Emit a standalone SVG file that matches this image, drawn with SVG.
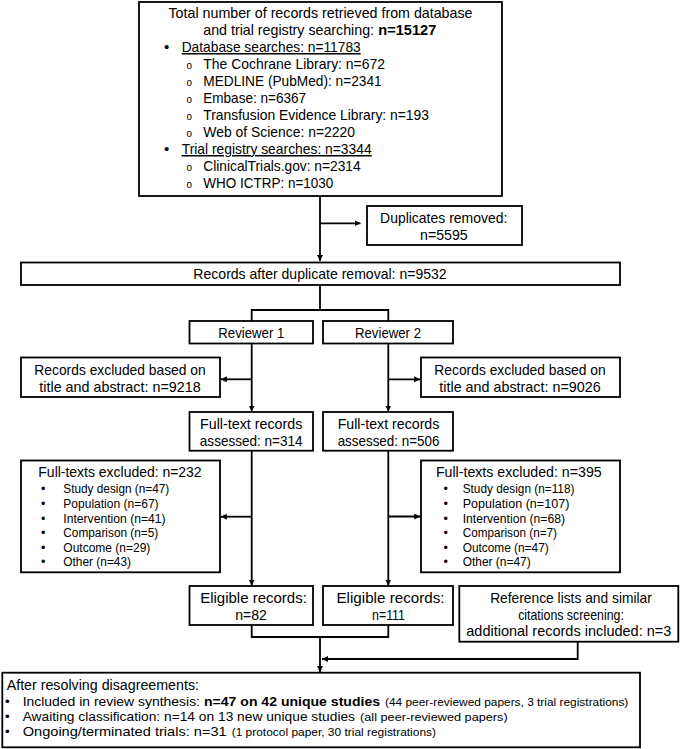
<svg xmlns="http://www.w3.org/2000/svg" width="685" height="749" viewBox="0 0 685 749">
<style>
.box{fill:#fff;stroke:#000;stroke-width:1.8}
.t{font-family:"Liberation Sans","Open Sans",sans-serif;font-size:15px;fill:#000}
.c{text-anchor:middle}
.m{font-size:14.5px}
.h{font-size:14px}
.f{font-size:13.4px}
.s{font-size:12.5px}
.xs{font-size:11px}
.b{font-weight:bold}
.u{text-decoration:underline}
.o{font-family:"Liberation Mono",monospace;font-size:10px;text-anchor:middle}
.conn path{fill:none;stroke:#000;stroke-width:1.8}
</style>
<defs>
<marker id="ah" markerUnits="userSpaceOnUse" markerWidth="7" markerHeight="7" refX="6" refY="3" orient="auto"><path d="M0,0L6,3L0,6z" fill="#000"/></marker>
</defs>
<g class="conn" id="connectors">
<path d="M320,196V261" marker-end="url(#ah)"/>
<path d="M320,223.3H360.5" marker-end="url(#ah)"/>
<path d="M320,285V310M251.7,321V310H388.3V321"/>
<path d="M251.7,343.3V411.5" marker-end="url(#ah)"/>
<path d="M251.7,379.3H220.8" marker-end="url(#ah)"/>
<path d="M388.3,343.3V411.5" marker-end="url(#ah)"/>
<path d="M388.3,379.3H420.2" marker-end="url(#ah)"/>
<path d="M251.7,450.7V585.5" marker-end="url(#ah)"/>
<path d="M251.7,516.7H220.8" marker-end="url(#ah)"/>
<path d="M388.3,450.7V585.5" marker-end="url(#ah)"/>
<path d="M388.3,516.5H420.2" marker-end="url(#ah)"/>
<path d="M251.7,625V637H388.3V625"/>
<path d="M320,637V672" marker-end="url(#ah)"/>
<path d="M577.7,641.7V659H322" marker-end="url(#ah)"/>
</g>
<g id="n_total">
<rect class="box" x="139" y="2" width="363" height="194"/>
<text class="t c" x="320.5" y="18" textLength="304" lengthAdjust="spacingAndGlyphs">Total number of records retrieved from database</text>
<text class="t" y="35"><tspan x="203.3" textLength="170.7" lengthAdjust="spacingAndGlyphs">and trial registry searching:</tspan> <tspan class="b" x="378.3" textLength="58" lengthAdjust="spacingAndGlyphs">n=15127</tspan></text>
<text class="t c" x="166.7" y="52">•</text>
<text class="t u" x="181.7" y="52" textLength="179" lengthAdjust="spacingAndGlyphs">Database searches: n=11783</text>
<text class="o" x="189.3" y="69">o</text>
<text class="t" x="203.3" y="69" textLength="181.7" lengthAdjust="spacingAndGlyphs">The Cochrane Library: n=672</text>
<text class="o" x="189.3" y="86">o</text>
<text class="t" x="203.3" y="86" textLength="178.3" lengthAdjust="spacingAndGlyphs">MEDLINE (PubMed): n=2341</text>
<text class="o" x="189.3" y="103">o</text>
<text class="t" x="203.3" y="103" textLength="102.7" lengthAdjust="spacingAndGlyphs">Embase: n=6367</text>
<text class="o" x="189.3" y="120">o</text>
<text class="t" x="203.3" y="120" textLength="225.7" lengthAdjust="spacingAndGlyphs">Transfusion Evidence Library: n=193</text>
<text class="o" x="189.3" y="137">o</text>
<text class="t" x="203.3" y="137" textLength="151.7" lengthAdjust="spacingAndGlyphs">Web of Science: n=2220</text>
<text class="t c" x="166.7" y="154">•</text>
<text class="t u" x="181.7" y="154" textLength="190" lengthAdjust="spacingAndGlyphs">Trial registry searches: n=3344</text>
<text class="o" x="189.3" y="171">o</text>
<text class="t" x="203.3" y="171" textLength="157.3" lengthAdjust="spacingAndGlyphs">ClinicalTrials.gov: n=2314</text>
<text class="o" x="189.3" y="188">o</text>
<text class="t" x="203.3" y="188" textLength="130" lengthAdjust="spacingAndGlyphs">WHO ICTRP: n=1030</text>
</g>
<g id="n_duplicates">
<rect class="box" x="367" y="206" width="155" height="39"/>
<text class="t m c" x="443.7" y="223" textLength="127.3" lengthAdjust="spacingAndGlyphs">Duplicates removed:</text>
<text class="t m c" x="443.9" y="239.5" textLength="47.7" lengthAdjust="spacingAndGlyphs">n=5595</text>
</g>
<g id="n_after_dup">
<rect class="box" x="21" y="262.5" width="599" height="22.5"/>
<text class="t c" x="320" y="279" textLength="253.3" lengthAdjust="spacingAndGlyphs">Records after duplicate removal: n=9532</text>
</g>
<g id="n_reviewer1">
<rect class="box" x="189.5" y="321" width="123.5" height="22.5"/>
<text class="t c" x="251.3" y="337.5" textLength="66" lengthAdjust="spacingAndGlyphs">Reviewer 1</text>
</g>
<g id="n_reviewer2">
<rect class="box" x="323" y="321" width="130" height="22.5"/>
<text class="t c" x="388" y="337.5" textLength="66" lengthAdjust="spacingAndGlyphs">Reviewer 2</text>
</g>
<g id="n_excl_ta_1">
<rect class="box" x="21" y="357.5" width="199" height="39.5"/>
<text class="t c" x="120" y="374.5" textLength="171.3" lengthAdjust="spacingAndGlyphs">Records excluded based on</text>
<text class="t c" x="120" y="391.5" textLength="161.3" lengthAdjust="spacingAndGlyphs">title and abstract: n=9218</text>
</g>
<g id="n_excl_ta_2">
<rect class="box" x="421" y="357.5" width="199" height="39.5"/>
<text class="t c" x="520" y="374.5" textLength="171.3" lengthAdjust="spacingAndGlyphs">Records excluded based on</text>
<text class="t c" x="520" y="391.5" textLength="161.3" lengthAdjust="spacingAndGlyphs">title and abstract: n=9026</text>
</g>
<g id="n_fulltext_1">
<rect class="box" x="189.5" y="412" width="123.5" height="38.7"/>
<text class="t c" x="251.2" y="429" textLength="102.3" lengthAdjust="spacingAndGlyphs">Full-text records</text>
<text class="t c" x="251.2" y="446" textLength="102.7" lengthAdjust="spacingAndGlyphs">assessed: n=314</text>
</g>
<g id="n_fulltext_2">
<rect class="box" x="323" y="412" width="130" height="38.7"/>
<text class="t c" x="388.5" y="429" textLength="101.7" lengthAdjust="spacingAndGlyphs">Full-text records</text>
<text class="t c" x="388.5" y="446" textLength="101.7" lengthAdjust="spacingAndGlyphs">assessed: n=506</text>
</g>
<g id="n_ft_excl_1">
<rect class="box" x="21" y="460.5" width="199" height="111.8"/>
<text class="t h c" x="120" y="477" textLength="163.3" lengthAdjust="spacingAndGlyphs">Full-texts excluded: n=232</text>
<g class="t s">
<text class="c" x="43.3" y="493.3">•</text><text x="63.3" y="493.3" textLength="106" lengthAdjust="spacingAndGlyphs">Study design (n=47)</text>
<text class="c" x="43.3" y="507.9">•</text><text x="63.3" y="507.9" textLength="95.3" lengthAdjust="spacingAndGlyphs">Population (n=67)</text>
<text class="c" x="43.3" y="522.5">•</text><text x="63.3" y="522.5" textLength="102.3" lengthAdjust="spacingAndGlyphs">Intervention (n=41)</text>
<text class="c" x="43.3" y="537.1">•</text><text x="63.3" y="537.1" textLength="95" lengthAdjust="spacingAndGlyphs">Comparison (n=5)</text>
<text class="c" x="43.3" y="551.7">•</text><text x="63.3" y="551.7" textLength="87" lengthAdjust="spacingAndGlyphs">Outcome (n=29)</text>
<text class="c" x="43.3" y="566.3">•</text><text x="63.3" y="566.3" textLength="67.7" lengthAdjust="spacingAndGlyphs">Other (n=43)</text>
</g>
</g>
<g id="n_ft_excl_2">
<rect class="box" x="421" y="460.5" width="199" height="111.8"/>
<text class="t h c" x="518.8" y="477" textLength="165.7" lengthAdjust="spacingAndGlyphs">Full-texts excluded: n=395</text>
<g class="t s">
<text class="c" x="445.7" y="493.3">•</text><text x="462.7" y="493.3" textLength="111.7" lengthAdjust="spacingAndGlyphs">Study design (n=118)</text>
<text class="c" x="445.7" y="507.9">•</text><text x="462.7" y="507.9" textLength="106.7" lengthAdjust="spacingAndGlyphs">Population (n=107)</text>
<text class="c" x="445.7" y="522.5">•</text><text x="462.7" y="522.5" textLength="102.3" lengthAdjust="spacingAndGlyphs">Intervention (n=68)</text>
<text class="c" x="445.7" y="537.1">•</text><text x="462.7" y="537.1" textLength="94.3" lengthAdjust="spacingAndGlyphs">Comparison (n=7)</text>
<text class="c" x="445.7" y="551.7">•</text><text x="462.7" y="551.7" textLength="86" lengthAdjust="spacingAndGlyphs">Outcome (n=47)</text>
<text class="c" x="445.7" y="566.3">•</text><text x="462.7" y="566.3" textLength="68" lengthAdjust="spacingAndGlyphs">Other (n=47)</text>
</g>
</g>
<g id="n_eligible_1">
<rect class="box" x="189.5" y="586" width="123.5" height="39"/>
<text class="t m c" x="253.5" y="603" textLength="106.7" lengthAdjust="spacingAndGlyphs">Eligible records:</text>
<text class="t m c" x="251" y="619.5" textLength="31.7" lengthAdjust="spacingAndGlyphs">n=82</text>
</g>
<g id="n_eligible_2">
<rect class="box" x="323" y="586" width="130" height="39"/>
<text class="t m c" x="390.5" y="603" textLength="108" lengthAdjust="spacingAndGlyphs">Eligible records:</text>
<text class="t m c" x="388.5" y="619.5" textLength="33" lengthAdjust="spacingAndGlyphs">n=111</text>
</g>
<g id="n_reference">
<rect class="box" x="459.3" y="586" width="219" height="55.7"/>
<text class="t m c" x="571" y="603" textLength="161.7" lengthAdjust="spacingAndGlyphs">Reference lists and similar</text>
<text class="t m c" x="571" y="619.5" textLength="105.7" lengthAdjust="spacingAndGlyphs">citations screening:</text>
<text class="t m c" x="568.8" y="636" textLength="205" lengthAdjust="spacingAndGlyphs">additional records included: n=3</text>
</g>
<g id="n_final">
<rect class="box" x="2.3" y="672.7" width="637.7" height="74.6"/>
<text class="t h" x="6.7" y="690" textLength="192.3" lengthAdjust="spacingAndGlyphs">After resolving disagreements:</text>
<text class="t f c" x="7.3" y="705.5">•</text>
<text class="t f" y="705.5"><tspan x="22.7" textLength="177.3" lengthAdjust="spacingAndGlyphs">Included in review synthesis:</tspan> <tspan class="b" x="204" textLength="176" lengthAdjust="spacingAndGlyphs">n=47 on 42 unique studies</tspan> <tspan class="xs" x="385" textLength="243.3" lengthAdjust="spacingAndGlyphs">(44 peer-reviewed papers, 3 trial registrations)</tspan></text>
<text class="t f c" x="7.3" y="720.5">•</text>
<text class="t f" y="720.5"><tspan x="22.7" textLength="332.3" lengthAdjust="spacingAndGlyphs">Awaiting classification: n=14 on 13 new unique studies</tspan> <tspan class="xs" x="360" textLength="147.7" lengthAdjust="spacingAndGlyphs">(all peer-reviewed papers)</tspan></text>
<text class="t f c" x="7.3" y="735.5">•</text>
<text class="t f" y="735.5"><tspan x="22.7" textLength="204" lengthAdjust="spacingAndGlyphs">Ongoing/terminated trials: n=31</tspan> <tspan class="xs" x="231.7" textLength="204.3" lengthAdjust="spacingAndGlyphs">(1 protocol paper, 30 trial registrations)</tspan></text>
</g>
</svg>
